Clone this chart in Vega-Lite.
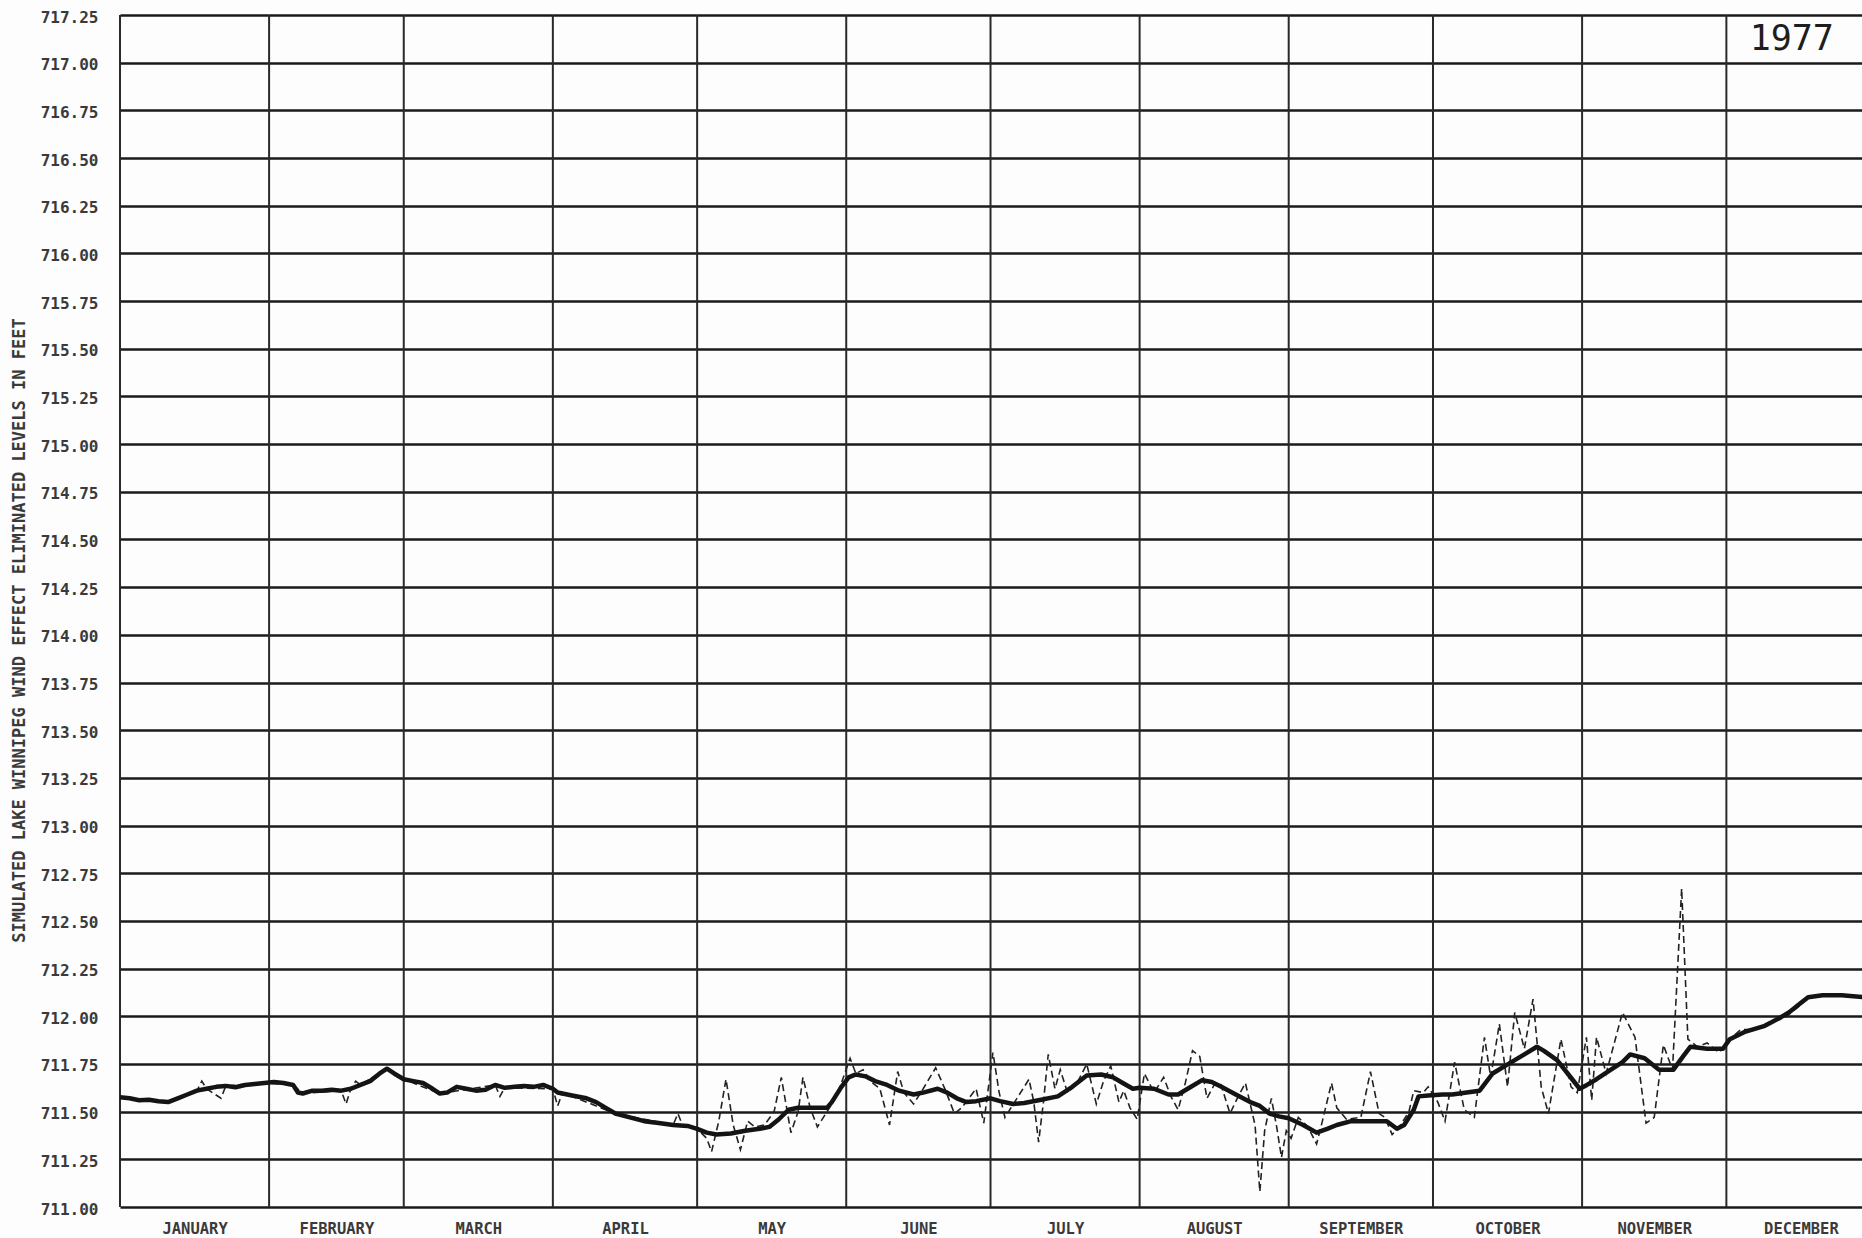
{
  "$schema": "https://vega.github.io/schema/vega-lite/v6.json",
  "width": 1742,
  "height": 1192,
  "autosize": {"type": "none"},
  "padding": {"left": 120, "top": 15, "right": 0, "bottom": 31},
  "background": "#fdfdfd",
  "view": {"stroke": null},
  "config": {
    "axis": {"labelFont": "DejaVu Sans Mono", "labelFontWeight": "bold", "labelColor": "#3a3a3a", "titleFont": "DejaVu Sans Mono", "titleColor": "#3a3a3a"}
  },
  "datasets": {
    "months": [
      {"month": "JANUARY", "start": 0}, {"month": "FEBRUARY", "start": 31}, {"month": "MARCH", "start": 59},
      {"month": "APRIL", "start": 90}, {"month": "MAY", "start": 120}, {"month": "JUNE", "start": 151},
      {"month": "JULY", "start": 181}, {"month": "AUGUST", "start": 212}, {"month": "SEPTEMBER", "start": 243},
      {"month": "OCTOBER", "start": 273}, {"month": "NOVEMBER", "start": 304}, {"month": "DECEMBER", "start": 334}
    ],
    "yearlabel": [{"label": "1977"}],
    "smoothed": [
      {"day": 0, "level": 711.575}, {"day": 2, "level": 711.57}, {"day": 4, "level": 711.56}, {"day": 6, "level": 711.562},
      {"day": 8, "level": 711.555}, {"day": 10, "level": 711.55}, {"day": 12, "level": 711.57}, {"day": 14, "level": 711.59},
      {"day": 16, "level": 711.61}, {"day": 18, "level": 711.62}, {"day": 20, "level": 711.63}, {"day": 22, "level": 711.635},
      {"day": 24, "level": 711.628}, {"day": 26, "level": 711.64}, {"day": 28, "level": 711.645}, {"day": 30, "level": 711.65},
      {"day": 32, "level": 711.655}, {"day": 34, "level": 711.65}, {"day": 36, "level": 711.64}, {"day": 37, "level": 711.6},
      {"day": 38, "level": 711.595}, {"day": 40, "level": 711.61}, {"day": 42, "level": 711.61}, {"day": 44, "level": 711.615},
      {"day": 46, "level": 711.61}, {"day": 48, "level": 711.62}, {"day": 50, "level": 711.64}, {"day": 52, "level": 711.66},
      {"day": 54, "level": 711.7}, {"day": 55.5, "level": 711.725}, {"day": 57, "level": 711.7}, {"day": 59, "level": 711.67},
      {"day": 61, "level": 711.66}, {"day": 63, "level": 711.65}, {"day": 65, "level": 711.62}, {"day": 66.5, "level": 711.595},
      {"day": 68, "level": 711.6}, {"day": 70, "level": 711.63}, {"day": 72, "level": 711.62}, {"day": 74, "level": 711.61},
      {"day": 76, "level": 711.615}, {"day": 78, "level": 711.64}, {"day": 80, "level": 711.625}, {"day": 82, "level": 711.63},
      {"day": 84, "level": 711.635}, {"day": 86, "level": 711.63}, {"day": 88, "level": 711.64}, {"day": 90, "level": 711.62},
      {"day": 91, "level": 711.6}, {"day": 94, "level": 711.585}, {"day": 97, "level": 711.57}, {"day": 99, "level": 711.55},
      {"day": 101, "level": 711.52}, {"day": 103, "level": 711.49}, {"day": 106, "level": 711.47}, {"day": 109, "level": 711.45},
      {"day": 112, "level": 711.44}, {"day": 115, "level": 711.43}, {"day": 118, "level": 711.425}, {"day": 120, "level": 711.41},
      {"day": 122, "level": 711.39}, {"day": 124, "level": 711.38}, {"day": 127, "level": 711.385}, {"day": 130, "level": 711.4},
      {"day": 133, "level": 711.41}, {"day": 135, "level": 711.42}, {"day": 137, "level": 711.46}, {"day": 139, "level": 711.51},
      {"day": 141, "level": 711.52}, {"day": 144, "level": 711.52}, {"day": 147, "level": 711.52}, {"day": 148, "level": 711.55},
      {"day": 150, "level": 711.63}, {"day": 151.5, "level": 711.68}, {"day": 153, "level": 711.695}, {"day": 155, "level": 711.685},
      {"day": 157, "level": 711.66}, {"day": 159.5, "level": 711.64}, {"day": 162, "level": 711.61}, {"day": 165, "level": 711.59},
      {"day": 167, "level": 711.6}, {"day": 170, "level": 711.62}, {"day": 172, "level": 711.6}, {"day": 174, "level": 711.57},
      {"day": 176, "level": 711.55}, {"day": 178, "level": 711.555}, {"day": 181, "level": 711.57}, {"day": 183, "level": 711.555},
      {"day": 185.7, "level": 711.54}, {"day": 188, "level": 711.545}, {"day": 191, "level": 711.56}, {"day": 195, "level": 711.58},
      {"day": 198, "level": 711.63}, {"day": 201, "level": 711.69}, {"day": 204, "level": 711.695}, {"day": 206.5, "level": 711.68},
      {"day": 208.5, "level": 711.65}, {"day": 210.6, "level": 711.62}, {"day": 212, "level": 711.625}, {"day": 215, "level": 711.62},
      {"day": 218, "level": 711.59}, {"day": 220, "level": 711.59}, {"day": 222, "level": 711.62}, {"day": 225, "level": 711.665},
      {"day": 227, "level": 711.655}, {"day": 229, "level": 711.63}, {"day": 232, "level": 711.59}, {"day": 235, "level": 711.55},
      {"day": 237, "level": 711.53}, {"day": 239, "level": 711.49}, {"day": 241, "level": 711.475}, {"day": 243, "level": 711.465},
      {"day": 246, "level": 711.43}, {"day": 248.8, "level": 711.39}, {"day": 251, "level": 711.41}, {"day": 253, "level": 711.43},
      {"day": 256, "level": 711.45}, {"day": 260, "level": 711.45}, {"day": 263.4, "level": 711.45}, {"day": 265.5, "level": 711.41},
      {"day": 267, "level": 711.43}, {"day": 269, "level": 711.51}, {"day": 270, "level": 711.58}, {"day": 272, "level": 711.585},
      {"day": 275, "level": 711.59}, {"day": 277, "level": 711.59}, {"day": 280, "level": 711.6}, {"day": 282.7, "level": 711.61},
      {"day": 285.4, "level": 711.7}, {"day": 288, "level": 711.74}, {"day": 290, "level": 711.77}, {"day": 292, "level": 711.8},
      {"day": 294.6, "level": 711.84}, {"day": 296, "level": 711.82}, {"day": 298.8, "level": 711.77}, {"day": 301, "level": 711.7},
      {"day": 303.5, "level": 711.62}, {"day": 305, "level": 711.64}, {"day": 307, "level": 711.67}, {"day": 310, "level": 711.72},
      {"day": 312.4, "level": 711.76}, {"day": 314, "level": 711.8}, {"day": 317, "level": 711.78}, {"day": 320, "level": 711.72},
      {"day": 323, "level": 711.72}, {"day": 325, "level": 711.79}, {"day": 326.5, "level": 711.84}, {"day": 330, "level": 711.83},
      {"day": 333.3, "level": 711.83}, {"day": 334.7, "level": 711.88}, {"day": 338, "level": 711.92}, {"day": 342, "level": 711.95},
      {"day": 345, "level": 711.99}, {"day": 347, "level": 712.02}, {"day": 349, "level": 712.06}, {"day": 351, "level": 712.1},
      {"day": 354, "level": 712.11}, {"day": 358, "level": 712.11}, {"day": 362.5, "level": 712.1}
    ],
    "raw": [
      {"day": 0, "level": 711.575}, {"day": 4, "level": 711.56}, {"day": 10, "level": 711.55}, {"day": 16, "level": 711.61},
      {"day": 17, "level": 711.66}, {"day": 18, "level": 711.62}, {"day": 21, "level": 711.57}, {"day": 22, "level": 711.635},
      {"day": 30, "level": 711.65}, {"day": 36, "level": 711.64}, {"day": 38, "level": 711.595}, {"day": 46, "level": 711.61},
      {"day": 47, "level": 711.54}, {"day": 48, "level": 711.62}, {"day": 49, "level": 711.66}, {"day": 50, "level": 711.64},
      {"day": 55.5, "level": 711.725}, {"day": 59, "level": 711.67}, {"day": 66.5, "level": 711.595}, {"day": 78, "level": 711.64},
      {"day": 79, "level": 711.58}, {"day": 80, "level": 711.625}, {"day": 90, "level": 711.62}, {"day": 91, "level": 711.53},
      {"day": 92, "level": 711.6}, {"day": 103, "level": 711.49}, {"day": 115, "level": 711.43}, {"day": 116, "level": 711.49},
      {"day": 117, "level": 711.425}, {"day": 120, "level": 711.41},
      {"day": 122, "level": 711.36}, {"day": 123, "level": 711.29}, {"day": 124.5, "level": 711.45}, {"day": 126, "level": 711.67},
      {"day": 127.5, "level": 711.43}, {"day": 129, "level": 711.3}, {"day": 130.5, "level": 711.45}, {"day": 132, "level": 711.42},
      {"day": 134, "level": 711.43}, {"day": 136, "level": 711.5}, {"day": 137.5, "level": 711.68}, {"day": 139.5, "level": 711.39},
      {"day": 141, "level": 711.5}, {"day": 142, "level": 711.68}, {"day": 143.5, "level": 711.52}, {"day": 145, "level": 711.42},
      {"day": 147, "level": 711.5}, {"day": 148.5, "level": 711.56}, {"day": 150, "level": 711.65}, {"day": 151.8, "level": 711.78},
      {"day": 153, "level": 711.7}, {"day": 154.5, "level": 711.72}, {"day": 156, "level": 711.66}, {"day": 158, "level": 711.62},
      {"day": 160, "level": 711.43}, {"day": 161.7, "level": 711.71}, {"day": 163, "level": 711.6}, {"day": 165, "level": 711.54},
      {"day": 167, "level": 711.62}, {"day": 169.6, "level": 711.73}, {"day": 171.5, "level": 711.62}, {"day": 173.5, "level": 711.49},
      {"day": 175, "level": 711.52}, {"day": 178, "level": 711.62}, {"day": 179.6, "level": 711.44}, {"day": 181.5, "level": 711.81},
      {"day": 182.8, "level": 711.6}, {"day": 184, "level": 711.47}, {"day": 186, "level": 711.55}, {"day": 189, "level": 711.67},
      {"day": 190, "level": 711.55}, {"day": 191, "level": 711.34}, {"day": 192, "level": 711.55}, {"day": 193, "level": 711.8},
      {"day": 194.4, "level": 711.62}, {"day": 195.5, "level": 711.72}, {"day": 197, "level": 711.6}, {"day": 199, "level": 711.65},
      {"day": 201, "level": 711.75}, {"day": 203, "level": 711.54}, {"day": 204.5, "level": 711.66}, {"day": 206, "level": 711.74},
      {"day": 207.7, "level": 711.55}, {"day": 208.7, "level": 711.61}, {"day": 210, "level": 711.52}, {"day": 211.5, "level": 711.46},
      {"day": 213, "level": 711.7}, {"day": 215, "level": 711.6}, {"day": 217, "level": 711.68}, {"day": 218.5, "level": 711.58},
      {"day": 220, "level": 711.51}, {"day": 221.5, "level": 711.65}, {"day": 223, "level": 711.82}, {"day": 224.5, "level": 711.79},
      {"day": 226, "level": 711.57}, {"day": 227.5, "level": 711.64}, {"day": 228.8, "level": 711.65}, {"day": 230.8, "level": 711.49},
      {"day": 232.5, "level": 711.58}, {"day": 234, "level": 711.65}, {"day": 236, "level": 711.43}, {"day": 237, "level": 711.08},
      {"day": 238, "level": 711.4}, {"day": 239.4, "level": 711.57}, {"day": 240.5, "level": 711.42}, {"day": 241.5, "level": 711.26},
      {"day": 242.5, "level": 711.4}, {"day": 243.5, "level": 711.36}, {"day": 245, "level": 711.47}, {"day": 247, "level": 711.42},
      {"day": 248.8, "level": 711.33}, {"day": 250, "level": 711.45}, {"day": 251.9, "level": 711.65}, {"day": 253, "level": 711.52},
      {"day": 255, "level": 711.46}, {"day": 258, "level": 711.47}, {"day": 260, "level": 711.71}, {"day": 261.8, "level": 711.49},
      {"day": 263, "level": 711.47}, {"day": 264.5, "level": 711.38}, {"day": 266, "level": 711.42}, {"day": 268, "level": 711.5},
      {"day": 269, "level": 711.61}, {"day": 271, "level": 711.6}, {"day": 272, "level": 711.63}, {"day": 274, "level": 711.55},
      {"day": 275.5, "level": 711.45}, {"day": 277.5, "level": 711.76}, {"day": 279.5, "level": 711.51}, {"day": 281.6, "level": 711.47},
      {"day": 283.7, "level": 711.89}, {"day": 285, "level": 711.68}, {"day": 286.8, "level": 711.96}, {"day": 288.5, "level": 711.63},
      {"day": 290, "level": 712.02}, {"day": 292, "level": 711.83}, {"day": 293.8, "level": 712.09}, {"day": 295.5, "level": 711.63},
      {"day": 297, "level": 711.49}, {"day": 299.6, "level": 711.88}, {"day": 301.7, "level": 711.63}, {"day": 303, "level": 711.6},
      {"day": 304.9, "level": 711.89}, {"day": 306, "level": 711.56}, {"day": 307, "level": 711.89}, {"day": 309, "level": 711.7},
      {"day": 312.4, "level": 712.02}, {"day": 315, "level": 711.89}, {"day": 317.3, "level": 711.44}, {"day": 319, "level": 711.47},
      {"day": 320.9, "level": 711.85}, {"day": 322.8, "level": 711.72}, {"day": 324.7, "level": 712.67}, {"day": 326, "level": 711.88},
      {"day": 328, "level": 711.84}, {"day": 330, "level": 711.86}, {"day": 332.5, "level": 711.81}, {"day": 334.7, "level": 711.88},
      {"day": 337, "level": 711.93}, {"day": 340, "level": 711.93}, {"day": 343, "level": 711.97}, {"day": 346, "level": 711.99},
      {"day": 349, "level": 712.05}, {"day": 351, "level": 712.1}, {"day": 355, "level": 712.11}, {"day": 362.5, "level": 712.1}
    ]
  },
  "layer": [
    {
      "data": {"name": "months"},
      "mark": {"type": "rule", "color": "#2a2a2a", "strokeWidth": 2},
      "encoding": {
        "x": {
          "field": "start", "type": "quantitative",
          "scale": {"domain": [0, 362.2], "nice": false, "zero": false},
          "axis": {
            "values": [15.5, 45, 74.5, 105, 135.5, 166, 196.5, 227.5, 258, 288.5, 319, 349.5],
            "labelExpr": "['JANUARY','FEBRUARY','MARCH','APRIL','MAY','JUNE','JULY','AUGUST','SEPTEMBER','OCTOBER','NOVEMBER','DECEMBER'][floor(datum.value / 30.42)]",
            "domain": false, "ticks": false, "grid": false, "title": null,
            "labelFontSize": 15.5, "labelPadding": 14, "labelBaseline": "top"
          }
        },
        "y": {"datum": 711, "type": "quantitative"},
        "y2": {"datum": 717.25}
      }
    },
    {
      "data": {"name": "raw"},
      "mark": {"type": "line", "color": "#222222", "strokeWidth": 1.6, "strokeDash": [7, 4]},
      "encoding": {
        "x": {"field": "day", "type": "quantitative"},
        "y": {"field": "level", "type": "quantitative"}
      }
    },
    {
      "data": {"name": "smoothed"},
      "mark": {"type": "line", "color": "#141414", "strokeWidth": 4.5, "strokeJoin": "round"},
      "encoding": {
        "x": {"field": "day", "type": "quantitative"},
        "y": {
          "field": "level", "type": "quantitative",
          "scale": {"domain": [711, 717.25], "nice": false, "zero": false},
          "axis": {
            "values": [711, 711.25, 711.5, 711.75, 712, 712.25, 712.5, 712.75, 713, 713.25, 713.5, 713.75, 714, 714.25, 714.5, 714.75, 715, 715.25, 715.5, 715.75, 716, 716.25, 716.5, 716.75, 717, 717.25],
            "format": ".2f", "domain": false, "ticks": false,
            "grid": true, "gridColor": "#1a1a1a", "gridWidth": 2.5, "gridOpacity": 1,
            "labelFontSize": 16, "labelPadding": 22, "labelOffset": 2,
            "title": "SIMULATED LAKE WINNIPEG WIND EFFECT ELIMINATED LEVELS IN FEET",
            "titleFontSize": 17, "titleFontWeight": "bold",
            "titleAngle": -90, "titleX": -101, "titleY": 615, "titleAlign": "center", "titleBaseline": "middle"
          }
        }
      }
    },
    {
      "data": {"name": "yearlabel"},
      "mark": {"type": "text", "font": "DejaVu Sans Mono", "fontSize": 35, "color": "#1e1e1e", "align": "center", "baseline": "middle"},
      "encoding": {
        "x": {"datum": 347.6, "type": "quantitative"},
        "y": {"datum": 717.124, "type": "quantitative"},
        "text": {"field": "label", "type": "nominal"}
      }
    }
  ]
}
